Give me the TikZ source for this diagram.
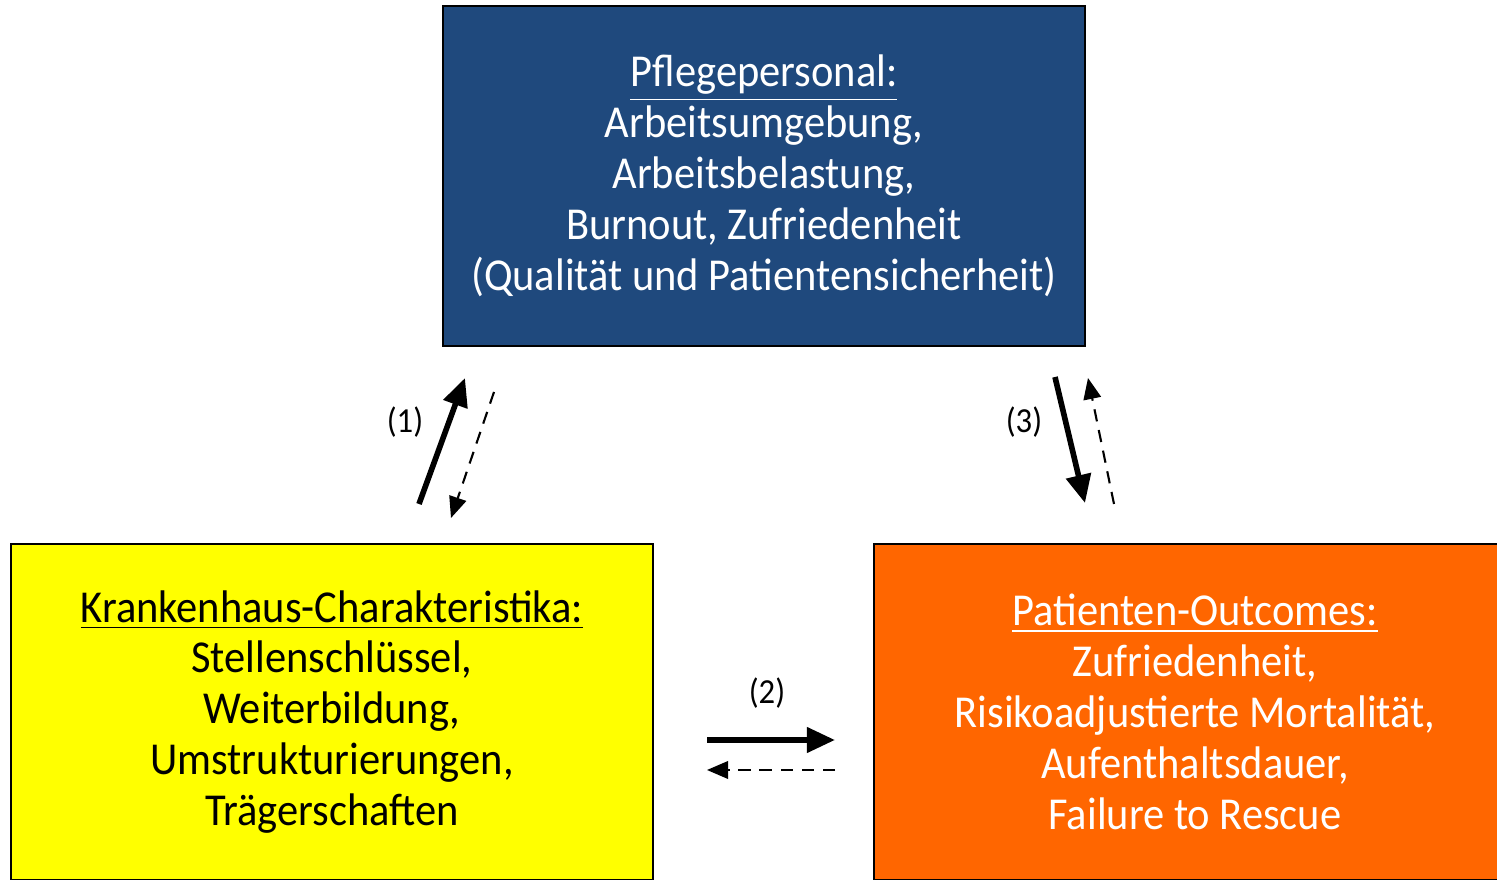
\documentclass[tikz,border=0pt]{standalone}
\usepackage{fontspec}
\setmainfont[FakeStretch=0.93]{Carlito}
\usetikzlibrary{arrows.meta}
\definecolor{pflegeblue}{RGB}{31,73,125}
\definecolor{hausyellow}{RGB}{255,255,0}
\definecolor{outorange}{RGB}{255,102,0}
\begin{document}
\begin{tikzpicture}[
    box/.style={draw=black, line width=0.8pt, minimum width=6.42cm, minimum height=3.4cm,
        align=center, font=\fontsize{13}{14.5}\selectfont, inner sep=0pt},
    strong/.style={line width=1.6pt, -{Triangle[length=8pt,width=7pt]}},
    weak/.style={line width=0.6pt, dash pattern=on 3.5pt off 2.5pt, -{Triangle[length=6pt,width=5pt]}},
    lab/.style={font=\fontsize{10}{12}\selectfont}
]
    \useasboundingbox (0,0) rectangle (14.97,8.80);
    \clip (0,0) rectangle (14.97,8.80);
    % Boxes
    \node[box, fill=pflegeblue, text=white] (pflege) at (7.64,7.04)
        {\underline{Pflegepersonal:}\\Arbeitsumgebung,\\Arbeitsbelastung,\\Burnout, Zufriedenheit\\(Qualität und Patientensicherheit)};
    \node[box, fill=hausyellow, minimum height=3.36cm] (haus) at (3.32,1.68)
        {\underline{Krankenhaus-Charakteristika:}\\Stellenschlüssel,\\Weiterbildung,\\Umstrukturierungen,\\Trägerschaften};
    \node[box, fill=outorange, text=white, minimum width=6.42cm, minimum height=3.36cm] (outcome) at (11.95,1.68)
        {\underline{Patienten-Outcomes:}\\Zufriedenheit,\\Risikoadjustierte Mortalität,\\Aufenthaltsdauer,\\Failure to Rescue};
    % Arrow ends
    \coordinate (a1) at (4.19,3.76); \coordinate (b1) at (4.65,5.02);
    \coordinate (c1) at (4.94,4.88); \coordinate (d1) at (4.51,3.62);
    \coordinate (a3) at (10.55,5.03); \coordinate (b3) at (10.85,3.77);
    \coordinate (c3) at (11.14,3.76); \coordinate (d3) at (10.88,5.02);
    \coordinate (a2) at (7.07,1.40); \coordinate (b2) at (8.35,1.40);
    \coordinate (c2) at (8.35,1.10); \coordinate (d2) at (7.07,1.10);
    % Arrows
    \draw[strong] (a1) -- (b1);
    \draw[weak] (c1) -- (d1);
    \draw[strong] (a3) -- (b3);
    \draw[weak] (c3) -- (d3);
    \draw[strong] (a2) -- (b2);
    \draw[weak] (c2) -- (d2);
    % Labels
    \node[lab] (l1) at (4.05,4.58) {(1)};
    \node[lab] (l2) at (7.67,1.87) {(2)};
    \node[lab] (l3) at (10.24,4.58) {(3)};
\end{tikzpicture}
\end{document}
